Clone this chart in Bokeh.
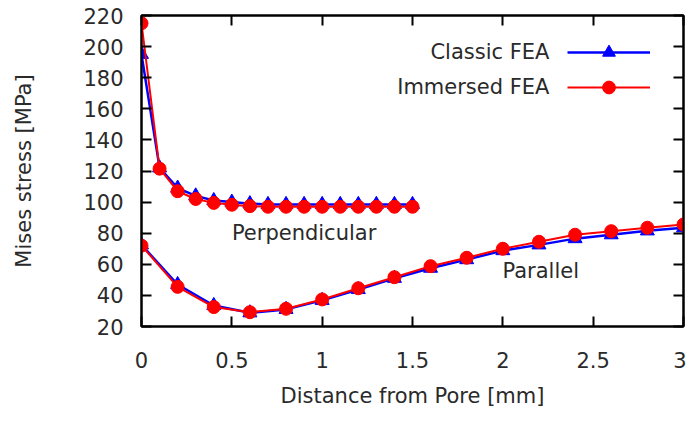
from bokeh.plotting import figure
from bokeh.models import (Range1d, LinearAxis, FixedTicker, Legend, LegendItem, Label)
from bokeh.embed import file_html
from bokeh.resources import INLINE

# ---- data ----
perp_x = [0.0, 0.1, 0.2, 0.3, 0.4, 0.5, 0.6, 0.7, 0.8, 0.9, 1.0, 1.1, 1.2, 1.3, 1.4, 1.5]
perp_classic = [195, 122, 109, 104, 101, 100, 99, 98.5, 98.5, 98.5, 98.5, 98.5, 98.5, 98.5, 98.5, 98.5]
perp_immersed = [215, 121.5, 107, 102, 99.5, 98.3, 97.4, 97, 97, 97, 97, 97, 97, 97, 97, 97]

par_x = [0.0, 0.2, 0.4, 0.6, 0.8, 1.0, 1.2, 1.4, 1.6, 1.8, 2.0, 2.2, 2.4, 2.6, 2.8, 3.0]
par_classic = [72.5, 47, 33.5, 28.8, 31, 36.8, 43.8, 51, 57.5, 63, 68.8, 72.5, 76.5, 79, 81.5, 83.5]
par_immersed = [72, 45.5, 32.5, 29.2, 31.4, 37.4, 44.6, 51.7, 58.8, 64.2, 70, 74.5, 79, 81.3, 83.5, 85.6]

x_ticks = [0, 0.5, 1, 1.5, 2, 2.5, 3]
x_tick_labels = ["0", "0.5", "1", "1.5", "2", "2.5", "3"]
y_ticks = [20, 40, 60, 80, 100, 120, 140, 160, 180, 200, 220]

series_names = ["Classic FEA", "Immersed FEA"]
curve_names = ["Perpendicular", "Parallel"]

FONT = "DejaVu Sans"
FS = "21px"
TXT = "#2a2a2a"
BLUE = "#0000ff"
RED = "#ff0000"

p = figure(width=686, height=424, output_backend="svg", toolbar_location=None,
           x_range=Range1d(0, 3), y_range=Range1d(20, 220),
           min_border_left=141, min_border_right=3, min_border_top=15, min_border_bottom=98,
           x_axis_label="Distance from Pore [mm]", y_axis_label="Mises stress [MPa]")
p.grid.visible = False
p.outline_line_color = "black"
p.outline_line_width = 2
p.background_fill_color = "white"
p.border_fill_color = "white"

def style_axis(ax):
    ax.axis_line_color = "black"
    ax.axis_line_width = 2
    ax.major_tick_in = 10
    ax.major_tick_out = 0
    ax.major_tick_line_width = 2
    ax.major_tick_line_color = "black"
    ax.minor_tick_line_color = None
    ax.major_label_text_font = FONT
    ax.major_label_text_font_size = FS
    ax.major_label_text_color = TXT
    ax.axis_label_text_font = FONT
    ax.axis_label_text_font_size = FS
    ax.axis_label_text_font_style = "normal"
    ax.axis_label_text_color = TXT

xax = p.xaxis[0]
yax = p.yaxis[0]
style_axis(xax)
style_axis(yax)
xax.ticker = FixedTicker(ticks=x_ticks)
xax.major_label_overrides = {t: l for t, l in zip(x_ticks, x_tick_labels)}
yax.ticker = FixedTicker(ticks=y_ticks)
xax.major_label_standoff = 25
xax.axis_label_standoff = 13
yax.major_label_standoff = 18
yax.axis_label_standoff = 44

# mirrored ticks on top and right, without labels
top = LinearAxis(ticker=FixedTicker(ticks=x_ticks))
right = LinearAxis(ticker=FixedTicker(ticks=y_ticks))
for ax, ticks in ((top, x_ticks), (right, y_ticks)):
    style_axis(ax)
    ax.major_label_overrides = {t: "" for t in ticks}
    ax.major_label_standoff = 0
p.add_layout(top, "above")
p.add_layout(right, "right")

# classic (blue) first
cl1 = p.line(perp_x, perp_classic, line_color=BLUE, line_width=2.5)
cs1 = p.scatter(perp_x, perp_classic, marker="triangle", size=14, fill_color=BLUE, line_color=BLUE)
cl2 = p.line(par_x, par_classic, line_color=BLUE, line_width=2.5)
cs2 = p.scatter(par_x, par_classic, marker="triangle", size=14, fill_color=BLUE, line_color=BLUE)
# immersed (red)
il1 = p.line(perp_x, perp_immersed, line_color=RED, line_width=2)
is1 = p.scatter(perp_x, perp_immersed, marker="circle", size=13, fill_color=RED, line_color=RED)
il2 = p.line(par_x, par_immersed, line_color=RED, line_width=2)
is2 = p.scatter(par_x, par_immersed, marker="circle", size=13, fill_color=RED, line_color=RED)

# legend samples (glyph on the right), with the names written to their left
legend = Legend(items=[LegendItem(label="", renderers=[cl1, cs1]),
                       LegendItem(label="", renderers=[il1, is1])],
                location=(426, 223), glyph_width=83, glyph_height=32, label_height=20,
                spacing=3, label_standoff=0, label_width=0,
                label_text_font=FONT, label_text_font_size=FS, label_text_color=TXT,
                padding=0, margin=0, border_line_alpha=0, background_fill_alpha=0)
p.add_layout(legend, "center")

for name, yv in zip(series_names, [196.3, 173.8]):
    p.add_layout(Label(x=2.258, y=yv, text=name, text_align="right", text_baseline="middle",
                       text_font=FONT, text_font_size=FS, text_color=TXT))

p.add_layout(Label(x=0.9, y=80, text=curve_names[0], text_align="center", text_baseline="middle",
                   text_font=FONT, text_font_size=FS, text_color=TXT))
p.add_layout(Label(x=2.21, y=55.6, text=curve_names[1], text_align="center", text_baseline="middle",
                   text_font=FONT, text_font_size=FS, text_color=TXT))

open("out.html", "w").write(file_html(p, INLINE))
